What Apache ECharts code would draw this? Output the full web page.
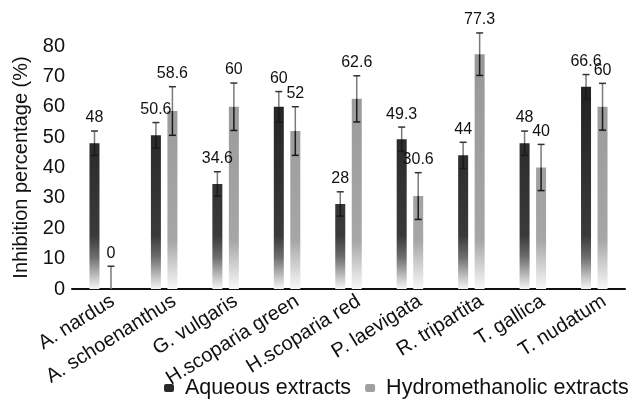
<!DOCTYPE html>
<html>
<head>
<meta charset="utf-8">
<script src="https://cdn.jsdelivr.net/npm/echarts@6/dist/echarts.min.js"></script>
<style>
  html, body { margin: 0; padding: 0; background: #fff; }
  #chart { width: 634px; height: 403px; }
</style>
</head>
<body>
<div id="chart"></div>
<script>
// 数据
const categories = [
  "A. nardus",
  "A. schoenanthus",
  "G. vulgaris",
  "H.scoparia green",
  "H.scoparia red",
  "P. laevigata",
  "R. tripartita",
  "T. gallica",
  "T. nudatum",
];
const aqueous = [48, 50.6, 34.6, 60, 28, 49.3, 44, 48, 66.6];
const hydro = [0, 58.6, 60, 52, 62.6, 30.6, 77.3, 40, 60];
const aqueousErr = [4, 4.2, 4, 5, 4, 4, 4.3, 4, 4];
const hydroErr = [7.5, 8, 7.8, 8, 7.6, 7.7, 7, 7.6, 7.7];

// 布局
const FONT = "'Liberation Sans', Arial, sans-serif";
const GRID_TOP = 46;
const GRID_BOTTOM = 114;
const CHART_H = 403;
const BAR_W = 10;
const BAR_GAP = 0.65;
const BAR_OFFSET = (BAR_W + BAR_W * BAR_GAP) / 2;

const y0 = CHART_H - GRID_BOTTOM;
const fade = (stops) =>
  new echarts.graphic.LinearGradient(0, GRID_TOP, 0, y0, stops, true);

const AQ_COLOR = fade([
  { offset: 0, color: "#1c1c1c" },
  { offset: 0.78, color: "#3a3a3a" },
  { offset: 0.87, color: "#6e6e6e" },
  { offset: 1, color: "#f6f6f6" },
]);
const HY_COLOR = fade([
  { offset: 0, color: "#979797" },
  { offset: 0.8, color: "#a6a6a6" },
  { offset: 0.9, color: "#cfcfcf" },
  { offset: 1, color: "#f8f8f8" },
]);

// 误差线 + 数值标签
const errorRenderer = (side) => (params, api) => {
  const idx = api.value(0);
  const val = api.value(1);
  const err = api.value(2);
  const base = api.coord([idx, val]);
  const x = base[0] + side * BAR_OFFSET;
  const yTop = api.coord([idx, val + err])[1];
  const lowVal = Math.max(val - err, 0);
  const yLow = api.coord([idx, lowVal])[1];
  const children = [
    { type: "line", shape: { x1: x, y1: yTop, x2: x, y2: base[1] },
      style: { stroke: "#7a7a7a", lineWidth: 1.5 } },
    { type: "line", shape: { x1: x - 3.5, y1: yTop, x2: x + 3.5, y2: yTop },
      style: { stroke: "#333", lineWidth: 1.5 } },
    { type: "text", x: x, y: yTop - 5,
      style: { text: String(val), fill: "#111", font: "16px " + FONT,
               align: "center", verticalAlign: "bottom" } },
  ];
  if (val > 0) {
    children.push({ type: "line", shape: { x1: x, y1: base[1], x2: x, y2: yLow },
      style: { stroke: "#1a1a1a", lineWidth: 1.5 } });
  }
  if (val - err > 0) {
    children.push({ type: "line", shape: { x1: x - 3.5, y1: yLow, x2: x + 3.5, y2: yLow },
      style: { stroke: "#1a1a1a", lineWidth: 1.5 } });
  }
  return { type: "group", children };
};

const chart = echarts.init(document.getElementById("chart"), null, { renderer: "canvas" });

chart.setOption({
  animation: false,
  backgroundColor: "#fff",
  textStyle: { fontFamily: FONT },
  grid: { left: 72, right: 9, top: GRID_TOP, bottom: GRID_BOTTOM, outerBoundsMode: "none" },
  legend: {
    left: 164,
    top: 377,
    padding: 0,
    itemWidth: 10,
    itemHeight: 8,
    itemGap: 14,
    textStyle: { fontSize: 21.5, color: "#111", fontFamily: FONT, padding: [0, 0, 0, 6] },
    data: [
      { name: "Aqueous extracts", itemStyle: { color: "#2a2a2a" } },
      { name: "Hydromethanolic extracts", itemStyle: { color: "#a0a0a0" } },
    ],
  },
  xAxis: {
    type: "category",
    data: categories,
    axisLine: { lineStyle: { color: "#111", width: 2 } },
    axisTick: { show: false },
    axisLabel: {
      rotate: 32, interval: 0, fontSize: 20, color: "#111", margin: 17,
      padding: [0, -12, 0, 0],
    },
  },
  yAxis: {
    type: "value",
    min: 0,
    max: 80,
    interval: 10,
    name: "Inhibition percentage (%)",
    nameLocation: "middle",
    nameGap: 37,
    nameTextStyle: { fontSize: 20, color: "#111" },
    axisLine: { show: false },
    axisTick: { show: false },
    splitLine: { show: false },
    axisLabel: { fontSize: 20, color: "#111", margin: 7, padding: [5, 0, 0, 0] },
  },
  series: [
    { name: "Aqueous extracts", type: "bar", data: aqueous, barWidth: BAR_W,
      barGap: BAR_GAP * 100 + "%", itemStyle: { color: AQ_COLOR } },
    { name: "Hydromethanolic extracts", type: "bar", data: hydro, barWidth: BAR_W,
      itemStyle: { color: HY_COLOR } },
    { type: "custom", renderItem: errorRenderer(-1), z: 5,
      data: aqueous.map((v, i) => [i, v, aqueousErr[i]]), encode: { x: 0, y: 1 } },
    { type: "custom", renderItem: errorRenderer(1), z: 5,
      data: hydro.map((v, i) => [i, v, hydroErr[i]]), encode: { x: 0, y: 1 } },
  ],
});
</script>
</body>
</html>
